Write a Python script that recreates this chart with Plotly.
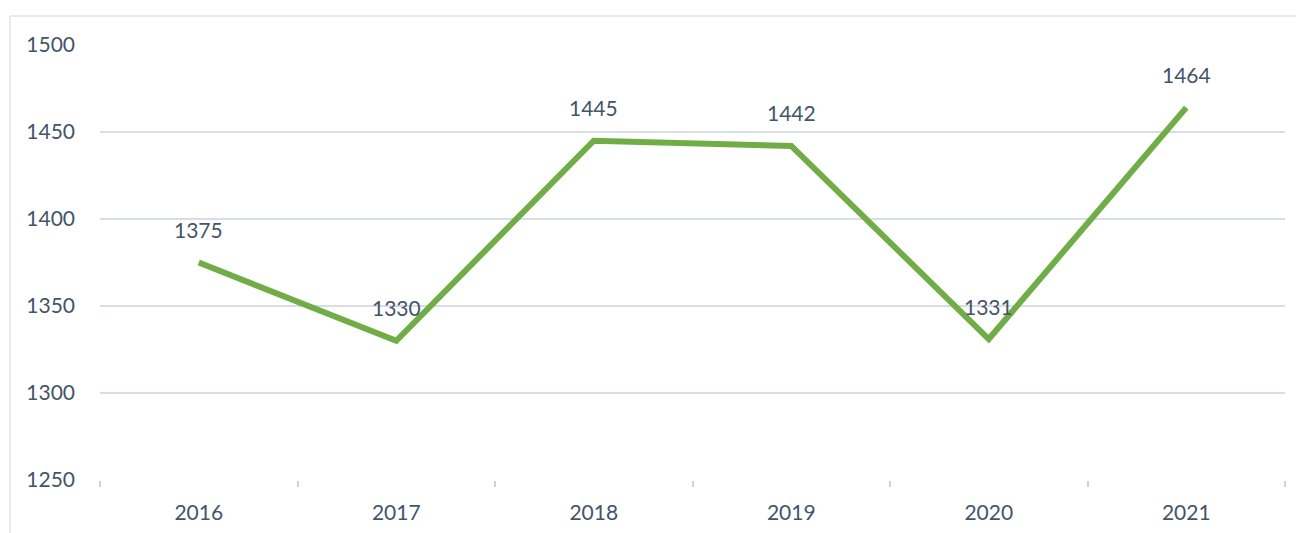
import plotly.graph_objects as go

years = ["2016", "2017", "2018", "2019", "2020", "2021"]
values = [1375, 1330, 1445, 1442, 1331, 1464]
y_ticks = [1250, 1300, 1350, 1400, 1450, 1500]

text_color = "#44546a"
grid_color = "#d9dde5"

# page body adds an 8px offset; compensate
W, H = 1296, 525
L, T = 92, 37
PW, PH = 1185, 435

fig = go.Figure()
fig.add_trace(go.Scatter(
    x=list(range(len(years))), y=values, mode="lines",
    line=dict(color="#70ad47", width=6),
    hoverinfo="skip", showlegend=False,
))

for i, v in enumerate(values):
    fig.add_annotation(x=i, y=v, text=str(v), showarrow=False,
                       yshift=33, font=dict(size=21, color=text_color))

# outer frame (partially visible)
fx = (10 - 8 - L) / PW
fy = (T + PH - (16 - 8)) / PH
fig.add_shape(type="line", xref="paper", yref="paper",
              x0=fx, x1=fx, y0=-0.3, y1=fy,
              line=dict(color="#dfe3ea", width=1.5))
fig.add_shape(type="line", xref="paper", yref="paper",
              x0=fx, x1=1.2, y0=fy, y1=fy,
              line=dict(color="#dfe3ea", width=1.5))

fig.update_layout(
    width=W, height=H,
    margin=dict(l=L, r=W - L - PW, t=T, b=H - T - PH),
    paper_bgcolor="white", plot_bgcolor="white",
    font=dict(family="Lato", size=21, color=text_color),
    xaxis=dict(
        tickmode="array", tickvals=list(range(len(years))), ticktext=years,
        showgrid=False, showline=False, ticks="",
        tickfont=dict(size=21, color=text_color), automargin=False,
        range=[-0.5, 5.5], zeroline=False, ticklabelstandoff=18,
    ),
    xaxis2=dict(
        overlaying="x", range=[-0.5, 5.5], tickmode="array",
        tickvals=[i - 0.5 for i in range(len(years) + 1)],
        showticklabels=False, ticks="outside", ticklen=6, automargin=False,
        tickcolor="#cdd3dc", tickwidth=1.5, showgrid=False,
        showline=False, zeroline=False, side="bottom",
    ),
    yaxis=dict(
        range=[1250, 1500], tickvals=y_ticks, showgrid=True,
        gridcolor=grid_color, gridwidth=1.5, zeroline=False,
        ticks="", ticklabelstandoff=24, automargin=False,
        tickfont=dict(size=21, color=text_color),
    ),
)
# dummy trace to activate xaxis2 for boundary ticks
fig.add_trace(go.Scatter(x=[None], y=[None], xaxis="x2", showlegend=False,
                         hoverinfo="skip"))

fig.write_html("out.html")
